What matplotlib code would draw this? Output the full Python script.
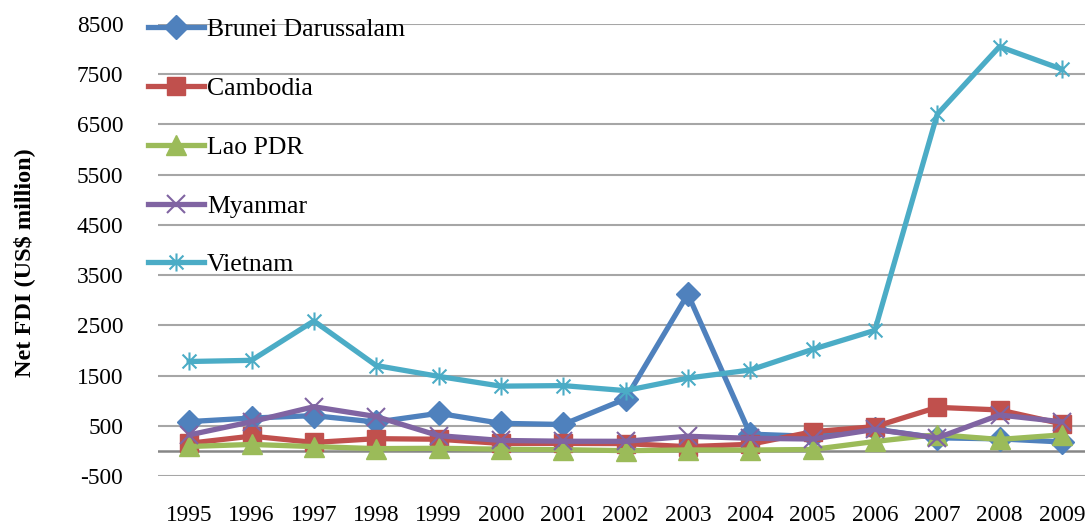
import matplotlib
matplotlib.use("Agg")
import matplotlib.pyplot as plt
from matplotlib.path import Path

years = [str(y) for y in range(1995, 2010)]

brunei = [583, 654, 702, 573, 748, 549, 526, 1035, 3123, 334, 289, 434, 260, 239, 178]
cambodia = [151, 294, 168, 243, 232, 149, 149, 145, 84, 131, 381, 483, 867, 815, 539]
lao = [88, 128, 86, 45, 52, 34, 24, 5, 19, 17, 28, 187, 324, 228, 319]
myanmar = [318, 581, 879, 684, 304, 208, 192, 191, 291, 251, 236, 428, 258, 715, 579]
vietnam = [1780, 1803, 2587, 1700, 1484, 1289, 1300, 1200, 1450, 1610, 2021, 2400, 6700, 8050, 7600]

names = ["Brunei Darussalam", "Cambodia", "Lao PDR", "Myanmar", "Vietnam"]
colors = ["#4F81BD", "#C0504D", "#9BBB59", "#8064A2", "#4BACC6"]

# excel style star: x plus a vertical bar
star = Path([(-1, -1), (1, 1), (-1, 1), (1, -1), (0, -1.3), (0, 1.3)],
            [Path.MOVETO, Path.LINETO, Path.MOVETO, Path.LINETO, Path.MOVETO, Path.LINETO])

plt.rcParams['font.family'] = ['Liberation Serif', 'DejaVu Serif']
plt.rcParams['axes.unicode_minus'] = False

fig = plt.figure(figsize=(10.85, 5.26), dpi=100)
ax = fig.add_axes([158 / 1085, 1 - 476 / 526, (1093 - 158) / 1085, (476 - 24) / 526])

x = list(range(len(years)))
styles = [
    dict(marker="D", markersize=12),
    dict(marker="s", markersize=13),
    dict(marker="^", markersize=14),
    dict(marker="x", markersize=13, markeredgewidth=1.5),
    dict(marker=star, markersize=13, markeredgewidth=1.5),
]
for vals, name, c, st in zip([brunei, cambodia, lao, myanmar, vietnam], names, colors, styles):
    ax.plot(x, vals, color=c, linewidth=3.8, label=name,
            markerfacecolor=c, markeredgecolor=c, zorder=3, **st)

ax.set_xlim(-0.5, len(years) - 0.5)
ax.set_ylim(-500, 8500)
ax.set_yticks(range(-500, 8501, 1000))
ax.set_xticks(x)
ax.set_xticklabels(years)
ax.tick_params(axis="both", length=0, labelsize=16.8)
ax.tick_params(axis="y", pad=25)
ax.tick_params(axis="x", pad=21)
ax.grid(axis="y", color="#A6A6A6", linewidth=1.5, zorder=0)
ax.axhline(0, color="#868686", linewidth=1.8, zorder=1)
for s in ax.spines.values():
    s.set_visible(False)

fig.text(0.022, 0.5, "Net FDI (US$ million)", rotation=90, fontsize=17.5,
         fontweight="bold", va="center", ha="center")

leg = ax.legend(loc="upper left", bbox_to_anchor=(-0.022, 1.035), frameon=False,
                fontsize=18.5, handlelength=2.2, handletextpad=0.1,
                labelspacing=1.39, borderaxespad=0)

fig.savefig("out.png", dpi=100)
